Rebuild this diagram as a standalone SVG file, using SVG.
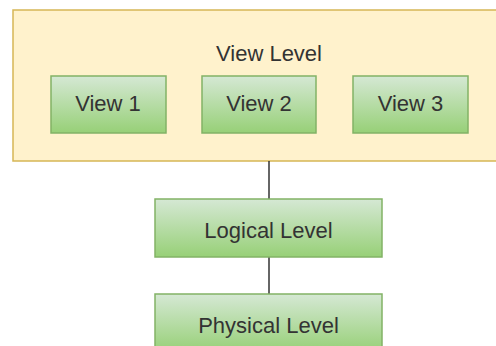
<svg xmlns="http://www.w3.org/2000/svg" width="496" height="346" viewBox="0 0 496 346">
<defs>
<linearGradient id="g" x1="0" y1="0" x2="0" y2="1">
<stop offset="0" stop-color="#d5e8d4"/>
<stop offset="1" stop-color="#97d077"/>
</linearGradient>
<style>
.n{fill:url(#g);stroke:#82b366;stroke-width:1.5}
.t{font-family:"Liberation Sans",Arial,sans-serif;font-size:22px;fill:#333;text-anchor:middle;dominant-baseline:central}
.c{stroke:#333;stroke-width:1.5;fill:none}
</style>
</defs>
<rect width="496" height="346" fill="#fff"/>
<g id="view-level">
<rect x="13" y="10" width="512" height="151" fill="#fff2cc" stroke="#d6b656" stroke-width="1.5"/>
<text class="t" x="269" y="53.5">View Level</text>
</g>
<g id="connectors">
<line class="c" x1="269" y1="161" x2="269" y2="199"/>
<line class="c" x1="269" y1="257" x2="269" y2="294"/>
</g>
<g id="view1"><rect class="n" x="51" y="76" width="115" height="57"/><text class="t" x="108" y="103.5">View 1</text></g>
<g id="view2"><rect class="n" x="202" y="76" width="114" height="57"/><text class="t" x="259" y="103.5">View 2</text></g>
<g id="view3"><rect class="n" x="353" y="76" width="115" height="57"/><text class="t" x="410.5" y="103.5">View 3</text></g>
<g id="logical"><rect class="n" x="155" y="199" width="227" height="58"/><text class="t" x="268.5" y="230">Logical Level</text></g>
<g id="physical"><rect class="n" x="155" y="294" width="227" height="58"/><text class="t" x="268.5" y="325">Physical Level</text></g>
</svg>
